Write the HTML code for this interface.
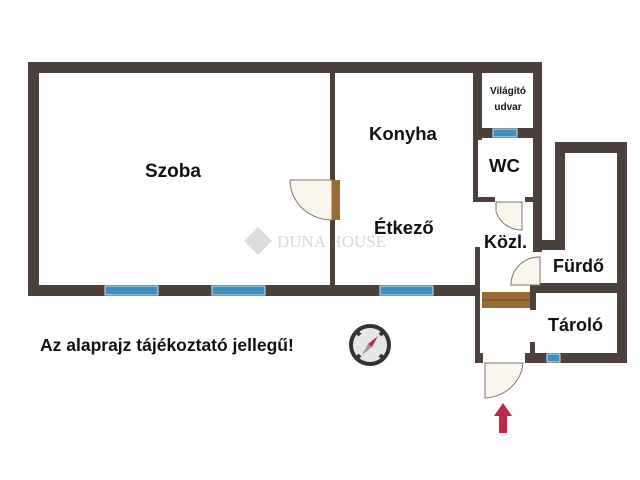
<!DOCTYPE html>
<html><head><meta charset="utf-8"><style>
html,body{margin:0;padding:0;background:#fff;}
svg{display:block;}
text{font-family:"Liberation Sans",sans-serif;font-weight:bold;fill:#111;}
</style></head><body>
<svg width="640" height="480" viewBox="0 0 640 480" xmlns="http://www.w3.org/2000/svg">
<g fill="#4b403b">
<rect x="28" y="62" width="514" height="11"/>
<rect x="28" y="62" width="11" height="234"/>
<rect x="28" y="285" width="452" height="11"/>
<rect x="330" y="73" width="5" height="212"/>
<rect x="473" y="62" width="9" height="78"/>
<rect x="473" y="128" width="69" height="10"/>
<rect x="533" y="62" width="9" height="190"/>
<rect x="473" y="138" width="5" height="64"/>
<rect x="473" y="197" width="22" height="5"/>
<rect x="525" y="197" width="13" height="5"/>
<rect x="555" y="142" width="72" height="11"/>
<rect x="617" y="142" width="10" height="221"/>
<rect x="555" y="142" width="10" height="108"/>
<rect x="533" y="240" width="32" height="10"/>
<rect x="535" y="283" width="92" height="10"/>
<rect x="475" y="247" width="5" height="116"/>
<rect x="530" y="283" width="6" height="27"/>
<rect x="475" y="353" width="8" height="10"/>
<rect x="525" y="353" width="102" height="10"/>
<rect x="530" y="342" width="5" height="21"/>
</g>
<g fill="#3f8fc0" stroke="#d0e4f0" stroke-width="1">
<rect x="105" y="286" width="53" height="9"/>
<rect x="212" y="286" width="53" height="9"/>
<rect x="380" y="286" width="53" height="9"/>
<rect x="493" y="129" width="24" height="8"/>
<rect x="547" y="354" width="13" height="8"/>
</g>
<g fill="#fbf6ec" stroke="#777" stroke-width="1">
<path d="M332 180 L290 180 A42 40 0 0 0 332 220 Z"/>
<path d="M496 202 L496 212 A27 28 0 0 0 522 230 L522 202 Z"/>
<path d="M540 257 A28 28 0 0 0 511 285 L540 285 Z"/>
<path d="M485 363 L485 398 A40 38 0 0 0 523 363 Z"/>
</g>
<rect x="332" y="180" width="8" height="40" fill="#9a6a35"/>
<rect x="482" y="292" width="48" height="16" fill="#9a6a35"/>
<line x1="482" y1="300" x2="530" y2="300" stroke="#6a4a25" stroke-width="1"/>
<g opacity="0.25">
<path d="M258 227 L272 241 L258 255 L244 241 Z" fill="#777"/>
<text x="277" y="247" style="font-family:'Liberation Serif',serif;font-weight:normal;fill:#666" font-size="17">DUNA HOUSE</text>
</g>
<text x="145" y="177" font-size="19">Szoba</text>
<text x="369" y="140" font-size="18.5">Konyha</text>
<text x="374" y="234" font-size="18.5">Étkező</text>
<text x="508" y="94" font-size="10" text-anchor="middle">Világító</text>
<text x="508" y="110" font-size="10" text-anchor="middle">udvar</text>
<text x="489" y="172" font-size="18.5">WC</text>
<text x="484" y="248" font-size="18">Közl.</text>
<text x="553" y="272" font-size="18">Fürdő</text>
<text x="548" y="331" font-size="18">Tároló</text>
<text x="40" y="351" font-size="17.5">Az alaprajz tájékoztató jellegű!</text>
<g>
<circle cx="370" cy="345" r="19" fill="#e6e6e6" stroke="#333" stroke-width="4"/>
<path d="M356 331 L360 335 M384 331 L380 335 M356 359 L360 355 M384 359 L380 355" stroke="#333" stroke-width="4"/>
<path d="M378 336 L372 347 L368 344 Z" fill="#c0264a"/>
<path d="M362 355 L368 344 L372 347 Z" fill="#999"/>
</g>
<path d="M503 403 L494 416 L499 416 L499 433 L507 433 L507 416 L512 416 Z" fill="#c0264a"/>
</svg>
</body></html>
